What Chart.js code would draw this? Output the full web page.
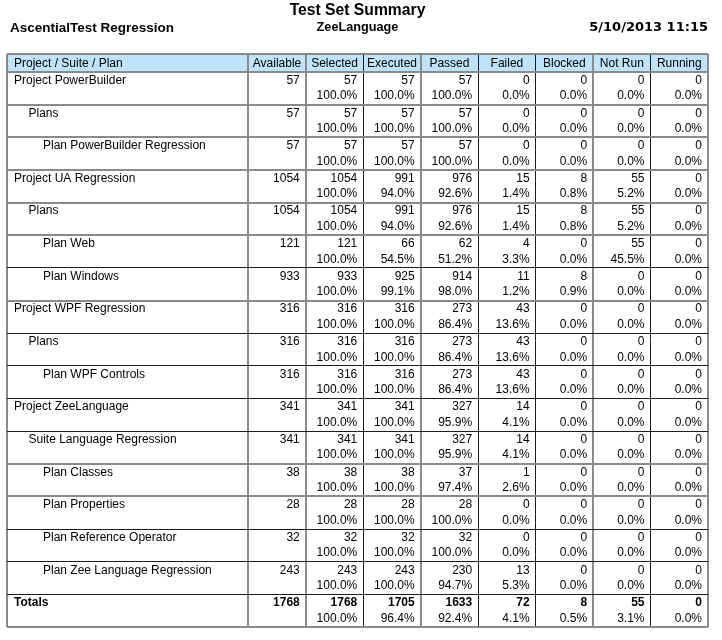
<!DOCTYPE html>
<html>
<head>
<meta charset="utf-8">
<script src="https://cdn.jsdelivr.net/npm/chart.js@4/dist/chart.umd.min.js"></script>
<style>
  html, body { margin: 0; padding: 0; background: #ffffff; }
  #wrap { width: 722px; height: 640px; position: relative; }
</style>
</head>
<body>
<div id="wrap"><canvas id="c"></canvas></div>
<script>
const reportTitle = 'Test Set Summary';
const reportSubtitle = 'ZeeLanguage';
const reportSource = 'AscentialTest Regression';
const reportDate = '5/10/2013 11:15';

const columns = ['Project / Suite / Plan', 'Available', 'Selected', 'Executed', 'Passed', 'Failed', 'Blocked', 'Not Run', 'Running'];

const rowLabels = [
  'Project PowerBuilder', 'Plans', 'Plan PowerBuilder Regression',
  'Project UA Regression', 'Plans', 'Plan Web', 'Plan Windows',
  'Project WPF Regression', 'Plans', 'Plan WPF Controls',
  'Project ZeeLanguage', 'Suite Language Regression', 'Plan Classes', 'Plan Properties',
  'Plan Reference Operator', 'Plan Zee Language Regression', 'Totals'
];
const rowLevels = [0, 1, 2, 0, 1, 2, 2, 0, 1, 2, 0, 1, 2, 2, 2, 2, 0];

const available   = [57, 57, 57, 1054, 1054, 121, 933, 316, 316, 316, 341, 341, 38, 28, 32, 243, 1768];
const selected    = [57, 57, 57, 1054, 1054, 121, 933, 316, 316, 316, 341, 341, 38, 28, 32, 243, 1768];
const selectedPct = ['100.0%', '100.0%', '100.0%', '100.0%', '100.0%', '100.0%', '100.0%', '100.0%', '100.0%', '100.0%', '100.0%', '100.0%', '100.0%', '100.0%', '100.0%', '100.0%', '100.0%'];
const executed    = [57, 57, 57, 991, 991, 66, 925, 316, 316, 316, 341, 341, 38, 28, 32, 243, 1705];
const executedPct = ['100.0%', '100.0%', '100.0%', '94.0%', '94.0%', '54.5%', '99.1%', '100.0%', '100.0%', '100.0%', '100.0%', '100.0%', '100.0%', '100.0%', '100.0%', '100.0%', '96.4%'];
const passed      = [57, 57, 57, 976, 976, 62, 914, 273, 273, 273, 327, 327, 37, 28, 32, 230, 1633];
const passedPct   = ['100.0%', '100.0%', '100.0%', '92.6%', '92.6%', '51.2%', '98.0%', '86.4%', '86.4%', '86.4%', '95.9%', '95.9%', '97.4%', '100.0%', '100.0%', '94.7%', '92.4%'];
const failed      = [0, 0, 0, 15, 15, 4, 11, 43, 43, 43, 14, 14, 1, 0, 0, 13, 72];
const failedPct   = ['0.0%', '0.0%', '0.0%', '1.4%', '1.4%', '3.3%', '1.2%', '13.6%', '13.6%', '13.6%', '4.1%', '4.1%', '2.6%', '0.0%', '0.0%', '5.3%', '4.1%'];
const blocked     = [0, 0, 0, 8, 8, 0, 8, 0, 0, 0, 0, 0, 0, 0, 0, 0, 8];
const blockedPct  = ['0.0%', '0.0%', '0.0%', '0.8%', '0.8%', '0.0%', '0.9%', '0.0%', '0.0%', '0.0%', '0.0%', '0.0%', '0.0%', '0.0%', '0.0%', '0.0%', '0.5%'];
const notRun      = [0, 0, 0, 55, 55, 55, 0, 0, 0, 0, 0, 0, 0, 0, 0, 0, 55];
const notRunPct   = ['0.0%', '0.0%', '0.0%', '5.2%', '5.2%', '45.5%', '0.0%', '0.0%', '0.0%', '0.0%', '0.0%', '0.0%', '0.0%', '0.0%', '0.0%', '0.0%', '3.1%'];
const running     = [0, 0, 0, 0, 0, 0, 0, 0, 0, 0, 0, 0, 0, 0, 0, 0, 0];
const runningPct  = ['0.0%', '0.0%', '0.0%', '0.0%', '0.0%', '0.0%', '0.0%', '0.0%', '0.0%', '0.0%', '0.0%', '0.0%', '0.0%', '0.0%', '0.0%', '0.0%', '0.0%'];

// ---------- layout / style (not data) ----------
const FONT = "'Liberation Sans', Arial, sans-serif";
const LABEL_COL_UNITS = 4.2;   // width of first column relative to a numeric column
const HEADER_UNITS = 0.551;    // header row height relative to a data row
const HEADER_FILL = '#BEE3FB';
const DARK = '#1c1c1c', LIGHT = '#8a8a8a';
const xLineDark = [false, false, false, true, false, true, true, false, true, false];
const yLineDark = [false, false, false, false, false, false, false, true, false, true, true, true, true, false, false, true, true, true, false];

const valueCols = [
  { v: available, p: null },
  { v: selected, p: selectedPct },
  { v: executed, p: executedPct },
  { v: passed, p: passedPct },
  { v: failed, p: failedPct },
  { v: blocked, p: blockedPct },
  { v: notRun, p: notRunPct },
  { v: running, p: runningPct }
];

const xBounds = [0];
for (let j = 0; j < columns.length; j++) xBounds.push(xBounds[j] + (j === 0 ? LABEL_COL_UNITS : 1));
const yBounds = [0, HEADER_UNITS];
for (let i = 0; i < rowLabels.length; i++) yBounds.push(HEADER_UNITS + i + 1);

const tablePlugin = {
  id: 'reportTable',
  beforeDraw(chart) {
    const { ctx, scales: { x, y } } = chart;
    ctx.save();
    ctx.fillStyle = HEADER_FILL;
    const l = x.getPixelForValue(xBounds[0]), r = x.getPixelForValue(xBounds[xBounds.length - 1]);
    const t = y.getPixelForValue(yBounds[0]), b = y.getPixelForValue(yBounds[1]);
    ctx.fillRect(l, t, r - l, b - t);
    ctx.restore();
  },
  afterDraw(chart) {
    const { ctx, scales: { x, y }, chartArea } = chart;
    ctx.save();
    ctx.fillStyle = '#000';
    // top row texts
    ctx.textBaseline = 'middle';
    ctx.font = 'bold 13.5px ' + FONT;
    ctx.textAlign = 'left';
    ctx.fillText(reportSource, 10, 28);
    ctx.font = "bold 13px 'DejaVu Sans', sans-serif";
    ctx.textAlign = 'right';
    ctx.fillText(reportDate, chartArea.right, 28);

    // header row
    const hTop = y.getPixelForValue(yBounds[0]), hBot = y.getPixelForValue(yBounds[1]);
    const hMid = (hTop + hBot) / 2 + 0.5;
    ctx.font = '12px ' + FONT;
    for (let j = 0; j < columns.length; j++) {
      const l = x.getPixelForValue(xBounds[j]), r = x.getPixelForValue(xBounds[j + 1]);
      if (j === 0) { ctx.textAlign = 'left'; ctx.fillText(columns[j], l + 7, hMid); }
      else { ctx.textAlign = 'center'; ctx.fillText(columns[j], (l + r) / 2, hMid); }
    }

    // body rows
    for (let i = 0; i < rowLabels.length; i++) {
      const top = y.getPixelForValue(yBounds[i + 1]);
      const isTotal = i === rowLabels.length - 1;
      ctx.textAlign = 'left';
      ctx.font = (isTotal ? 'bold ' : '') + '12px ' + FONT;
      const l0 = x.getPixelForValue(xBounds[0]);
      ctx.fillText(rowLabels[i], l0 + 7 + rowLevels[i] * 14.5, top + 8.5);
      ctx.textAlign = 'right';
      for (let c = 0; c < valueCols.length; c++) {
        const r = x.getPixelForValue(xBounds[c + 2]);
        ctx.font = (isTotal ? 'bold ' : '') + '12px ' + FONT;
        ctx.fillText(String(valueCols[c].v[i]), r - 6, top + 8.5);
        if (valueCols[c].p) {
          ctx.font = '12px ' + FONT;
          ctx.fillText(valueCols[c].p[i], r - 6, top + 24);
        }
      }
    }
    ctx.restore();
  }
};

new Chart(document.getElementById('c'), {
  type: 'scatter',
  data: { datasets: [] },
  plugins: [tablePlugin],
  options: {
    responsive: true,
    maintainAspectRatio: false,
    animation: false,
    layout: { padding: { left: 7, right: 14, top: 0, bottom: 13 } },
    plugins: {
      legend: { display: false },
      tooltip: { enabled: false },
      title: {
        display: true, text: reportTitle, color: '#000',
        font: { family: FONT, size: 15.7, weight: 'bold' },
        padding: { top: 1.5, bottom: 0 }
      },
      subtitle: {
        display: true, text: reportSubtitle, color: '#000',
        font: { family: FONT, size: 12.7, weight: 'bold' },
        padding: { top: 0, bottom: 18.5 }
      }
    },
    scales: {
      x: {
        type: 'linear', position: 'bottom',
        min: 0, max: xBounds[xBounds.length - 1],
        afterBuildTicks: s => { s.ticks = xBounds.map(v => ({ value: v })); },
        ticks: { display: false },
        border: { display: false },
        grid: {
          drawTicks: false,
          color: c => xLineDark[c.index] ? DARK : LIGHT,
          lineWidth: c => xLineDark[c.index] ? 1 : 2
        }
      },
      y: {
        type: 'linear', reverse: true,
        min: 0, max: yBounds[yBounds.length - 1],
        afterBuildTicks: s => { s.ticks = yBounds.map(v => ({ value: v })); },
        ticks: { display: false },
        border: { display: false },
        grid: {
          drawTicks: false,
          color: c => yLineDark[c.index] ? DARK : LIGHT,
          lineWidth: c => yLineDark[c.index] ? 1 : 2
        }
      }
    }
  }
});
</script>
</body>
</html>
